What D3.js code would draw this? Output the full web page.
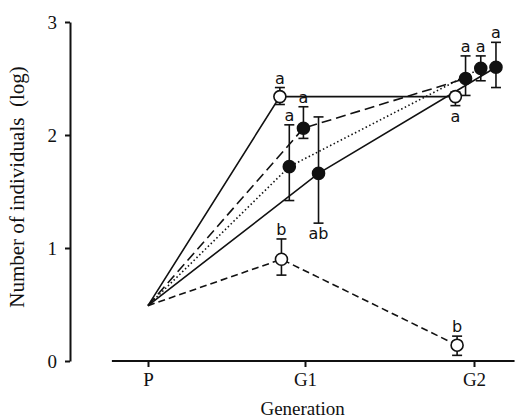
<!DOCTYPE html>
<meta charset="utf-8">
<script src="https://d3js.org/d3.v7.min.js"></script>
<style>
  body { margin: 0; background: #fff; }
  text { fill: #111; }
</style>
<svg id="chart" width="515" height="418"></svg>
<script>

// Generations on the x axis and y ticks
var generations = ["P", "G1", "G2"];
var yTicks = [0, 1, 2, 3];

// One row per treatment: x in generation units (points are spread slightly
// around each generation), mean, lower and upper end of the error bar
var seriesX    = [[0, 0.84, 1.89], [0, 0.99, 1.95], [0, 0.90, 2.04], [0, 1.08, 2.13], [0, 0.85, 1.90]];
var seriesMean = [[0.49, 2.34, 2.34], [0.49, 2.06, 2.50], [0.49, 1.72, 2.59], [0.49, 1.66, 2.60], [0.49, 0.90, 0.14]];
var seriesLow  = [[null, 2.27, 2.26], [null, 1.97, 2.35], [null, 1.42, 2.48], [null, 1.22, 2.42], [null, 0.76, 0.05]];
var seriesHigh = [[null, 2.42, 2.38], [null, 2.25, 2.70], [null, 2.09, 2.70], [null, 2.16, 2.82], [null, 1.08, 0.22]];
var seriesLetters = [[null, "a", "a"], [null, "a", "a"], [null, "a", "a"], [null, "ab", "a"], [null, "b", "b"]];

// drawing style per treatment
var style = [
  { open: true,  dash: null,      letterSide: [null, "up", "down"] },
  { open: false, dash: "10,5",    letterSide: [null, "up", "up"] },
  { open: false, dash: "1.5,2.5", letterSide: [null, "up", "up"] },
  { open: false, dash: null,      letterSide: [null, "down", "up"] },
  { open: true,  dash: "7,4",     letterSide: [null, "up", "up"] }
];

var svg = d3.select("#chart");

// piecewise scale: generation ticks are not evenly spaced in the original
var x = d3.scaleLinear().domain([0, 1, 2]).range([148, 305, 474]);
var y = d3.scaleLinear().domain([0, 3]).range([361, 22]);

var serif = "'Liberation Serif', 'Times New Roman', serif";

// Y axis
var yAxis = svg.append("g")
    .attr("transform", "translate(70,0)")
    .call(d3.axisLeft(y).tickValues(yTicks).tickSize(5).tickSizeOuter(0).tickFormat(d3.format("d")));
yAxis.select(".domain").attr("stroke", "#111").attr("stroke-width", 2);
yAxis.selectAll(".tick line").attr("stroke", "#111").attr("stroke-width", 2);
yAxis.selectAll(".tick text")
    .attr("x", -13)
    .style("font-family", serif)
    .style("font-size", "19px");

// X axis (detached from the y axis, runs to the right edge)
var xAxis = svg.append("g")
    .attr("transform", "translate(0," + y(0) + ")")
    .call(d3.axisBottom(x).tickValues([0, 1, 2]).tickSize(6).tickSizeOuter(0)
        .tickFormat(function(d){ return generations[d]; }));
xAxis.select(".domain").remove();
xAxis.append("line")
    .attr("x1", x(-0.23)).attr("x2", x(2.24))
    .attr("stroke", "#111").attr("stroke-width", 2);
xAxis.selectAll(".tick line").attr("stroke", "#111").attr("stroke-width", 2);
xAxis.selectAll(".tick text")
    .attr("y", 12)
    .style("font-family", serif)
    .style("font-size", "19px");

// axis titles
svg.append("text")
    .attr("x", x(0.985)).attr("y", 415)
    .attr("text-anchor", "middle")
    .style("font-family", serif)
    .style("font-size", "19px")
    .text("Generation");

svg.append("text")
    .attr("transform", "translate(24," + y(1.54) + ") rotate(-90)")
    .attr("text-anchor", "middle")
    .style("font-family", serif)
    .style("font-size", "21px")
    .attr("xml:space", "preserve")
    .text("Number of individuals  (log)");

// build one object per treatment
var series = seriesMean.map(function(m, i){
  return m.map(function(v, j){
    return { x: seriesX[i][j], v: v, lo: seriesLow[i][j], hi: seriesHigh[i][j],
             letter: seriesLetters[i][j], side: style[i].letterSide[j], open: style[i].open };
  });
});

var line = d3.line()
    .x(function(d){ return x(d.x); })
    .y(function(d){ return y(d.v); });

// lines
svg.append("g")
  .selectAll("path")
  .data(series)
  .enter()
  .append("path")
    .attr("d", line)
    .style("fill", "none")
    .style("stroke", "#111")
    .style("stroke-width", 1.6)
    .style("stroke-dasharray", function(d, i){ return style[i].dash; });

// all measured points (not the common starting point)
var points = [];
series.forEach(function(s){ s.forEach(function(p){ if (p.lo !== null) points.push(p); }); });

// error bars
var bars = svg.append("g")
  .selectAll("g")
  .data(points)
  .enter()
  .append("g")
    .attr("stroke", "#111")
    .attr("stroke-width", 1.6);
bars.append("line")
    .attr("x1", function(d){ return x(d.x); })
    .attr("x2", function(d){ return x(d.x); })
    .attr("y1", function(d){ return y(d.lo); })
    .attr("y2", function(d){ return y(d.hi); });
bars.append("line")
    .attr("x1", function(d){ return x(d.x) - 5; })
    .attr("x2", function(d){ return x(d.x) + 5; })
    .attr("y1", function(d){ return y(d.lo); })
    .attr("y2", function(d){ return y(d.lo); });
bars.append("line")
    .attr("x1", function(d){ return x(d.x) - 5; })
    .attr("x2", function(d){ return x(d.x) + 5; })
    .attr("y1", function(d){ return y(d.hi); })
    .attr("y2", function(d){ return y(d.hi); });

// markers
svg.append("g")
  .selectAll("circle")
  .data(points)
  .enter()
  .append("circle")
    .attr("cx", function(d){ return x(d.x); })
    .attr("cy", function(d){ return y(d.v); })
    .attr("r", 6)
    .style("fill", function(d){ return d.open ? "#fff" : "#111"; })
    .style("stroke", "#111")
    .style("stroke-width", 1.6);

// significance letters
svg.append("g")
  .selectAll("text")
  .data(points)
  .enter()
  .append("text")
    .attr("x", function(d){ return x(d.x); })
    .attr("y", function(d){ return d.side === "up" ? y(d.hi) - 4 : y(d.lo) + 16; })
    .attr("text-anchor", "middle")
    .style("font-family", "'DejaVu Sans', sans-serif")
    .style("font-size", "16px")
    .text(function(d){ return d.letter; });

</script>
